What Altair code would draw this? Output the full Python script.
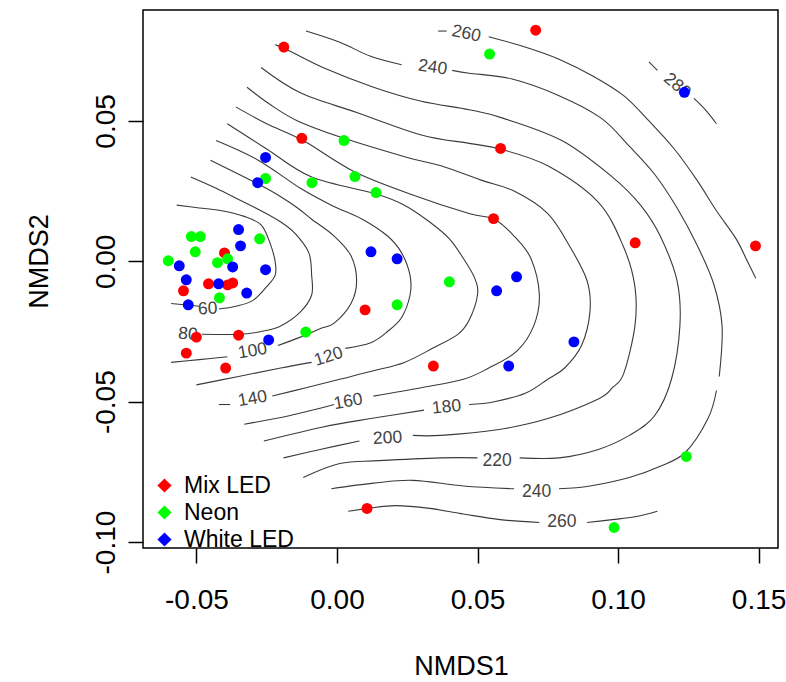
import altair as alt
import pandas as pd

FONT = "Liberation Sans"

# ---- sample scores (NMDS1, NMDS2) ----
groups = ["Mix LED", "Neon", "White LED"]
group_colors = ["#FF0000", "#00FF00", "#0000FF"]

mix_x = [-0.0400, -0.0457, -0.0389, -0.0371, -0.0546, -0.0500, -0.0350, -0.0536, -0.0396,
         -0.0189, -0.0125, 0.0707, 0.0582, 0.0557, 0.1061, 0.1489, 0.0100, 0.0343, 0.0107]
mix_y = [0.0030, -0.0080, -0.0084, -0.0077, -0.0105, -0.0270, -0.0263, -0.0327, -0.0380,
         0.0763, 0.0438, 0.0823, 0.0402, 0.0152, 0.0066, 0.0055, -0.0173, -0.0373, -0.0880]

neon_x = [-0.0275, -0.0518, -0.0486, -0.0504, -0.0600, -0.0425, -0.0389, -0.0418, -0.0111,
          0.0025, -0.0254, -0.0089, 0.0064, 0.0139, 0.0543, 0.0400, 0.0214, 0.1243, 0.0986]
neon_y = [0.0080, 0.0088, 0.0088, 0.0034, 0.0002, -0.0005, 0.0009, -0.0130, -0.0252,
          0.0430, 0.0295, 0.0280, 0.0302, 0.0245, 0.0738, -0.0073, -0.0155, -0.0695, -0.0948]

white_x = [-0.0350, -0.0343, -0.0561, -0.0371, -0.0254, -0.0536, -0.0421, -0.0321, -0.0529,
           -0.0243, -0.0254, -0.0282, 0.1236, 0.0121, 0.0214, 0.0639, 0.0568, 0.0843, 0.0611]
white_y = [0.0113, 0.0055, -0.0016, -0.0020, -0.0030, -0.0066, -0.0080, -0.0113, -0.0155,
           -0.0280, 0.0370, 0.0280, 0.0602, 0.0034, 0.0009, -0.0055, -0.0105, -0.0287, -0.0373]

# ---- fitted surface contours (segments split where labels sit) ----
contour_60 = [
    [(-0.059, -0.015), (-0.049, -0.016)],
    [(-0.042, -0.017), (-0.036, -0.016), (-0.030, -0.014), (-0.025, -0.009), (-0.022, -0.005),
     (-0.022, 0.000), (-0.024, 0.007), (-0.027, 0.013), (-0.033, 0.016), (-0.041, 0.018),
     (-0.049, 0.019), (-0.057, 0.020)],
]
contour_80 = [
    [(-0.048, -0.026), (-0.035, -0.026), (-0.027, -0.025), (-0.020, -0.023), (-0.013, -0.018),
     (-0.009, -0.012), (-0.009, -0.005), (-0.010, 0.003), (-0.015, 0.010), (-0.020, 0.014),
     (-0.027, 0.018), (-0.035, 0.022), (-0.043, 0.026), (-0.052, 0.030)],
]
contour_100 = [
    [(-0.059, -0.036), (-0.049, -0.035), (-0.039, -0.034)],
    [(-0.021, -0.030), (-0.013, -0.027), (-0.006, -0.024), (-0.001, -0.022), (0.005, -0.015),
     (0.007, -0.007), (0.005, 0.002), (-0.001, 0.009), (-0.009, 0.015), (-0.014, 0.019),
     (-0.020, 0.023), (-0.027, 0.027), (-0.045, 0.036)],
]
contour_120 = [
    [(-0.050, -0.044), (-0.035, -0.041), (-0.020, -0.038), (-0.009, -0.036)],
    [(0.003, -0.031), (0.012, -0.029), (0.018, -0.025), (0.023, -0.020), (0.026, -0.012),
     (0.026, -0.005), (0.023, 0.003), (0.018, 0.009), (0.009, 0.015), (-0.002, 0.020),
     (-0.013, 0.026), (-0.028, 0.036), (-0.043, 0.043)],
]
contour_140 = [
    [(-0.042, -0.051), (-0.038, -0.051)],
    [(-0.023, -0.048), (-0.011, -0.045), (0.001, -0.042), (0.013, -0.039), (0.024, -0.036),
     (0.034, -0.031), (0.043, -0.026), (0.047, -0.021), (0.050, -0.012), (0.049, -0.006),
     (0.045, 0.001), (0.040, 0.008), (0.033, 0.014), (0.024, 0.020), (0.014, 0.024),
     (-0.009, 0.030), (-0.025, 0.040), (-0.039, 0.049)],
]
contour_160 = [
    [(-0.033, -0.058), (-0.017, -0.055), (-0.001, -0.051)],
    [(0.013, -0.048), (0.030, -0.045), (0.045, -0.042), (0.054, -0.038), (0.064, -0.032),
     (0.070, -0.023), (0.072, -0.012), (0.069, 0.001), (0.063, 0.009), (0.056, 0.015),
     (0.047, 0.017), (0.026, 0.024), (0.006, 0.032), (-0.012, 0.043), (-0.025, 0.049),
     (-0.036, 0.055)],
]
contour_180 = [
    [(-0.026, -0.064), (-0.005, -0.059), (0.012, -0.056), (0.031, -0.053)],
    [(0.047, -0.051), (0.056, -0.050), (0.067, -0.047), (0.075, -0.042), (0.081, -0.038),
     (0.087, -0.030), (0.090, -0.018), (0.089, -0.007), (0.083, 0.005), (0.075, 0.017),
     (0.063, 0.025), (0.051, 0.029), (0.037, 0.034), (0.025, 0.037), (0.002, 0.044),
     (-0.014, 0.050), (-0.024, 0.056), (-0.032, 0.062)],
]
contour_200 = [
    [(-0.019, -0.070), (-0.006, -0.067), (0.008, -0.064)],
    [(0.027, -0.062), (0.037, -0.062), (0.057, -0.060), (0.075, -0.056), (0.093, -0.049),
     (0.098, -0.045), (0.102, -0.040), (0.106, -0.023), (0.106, -0.009), (0.102, 0.005),
     (0.093, 0.021), (0.075, 0.034), (0.058, 0.040), (0.047, 0.042), (0.030, 0.045),
     (0.007, 0.053), (-0.013, 0.060), (-0.027, 0.069)],
]
contour_220 = [
    [(-0.012, -0.077), (0.001, -0.072), (0.015, -0.071), (0.037, -0.070), (0.050, -0.070)],
    [(0.065, -0.070), (0.079, -0.070), (0.093, -0.067), (0.104, -0.062), (0.113, -0.055),
     (0.119, -0.042), (0.122, -0.023), (0.121, -0.007), (0.115, 0.009), (0.108, 0.020),
     (0.098, 0.030), (0.080, 0.043), (0.059, 0.051), (0.047, 0.054), (0.030, 0.057),
     (0.013, 0.062), (-0.005, 0.069), (-0.019, 0.076), (-0.022, 0.077)],
]
contour_240 = [
    [(-0.011, 0.082), (0.001, 0.078), (0.012, 0.073), (0.023, 0.070)],
    [(0.041, 0.068), (0.047, 0.067), (0.062, 0.065), (0.079, 0.059), (0.094, 0.051),
     (0.104, 0.041), (0.113, 0.031), (0.121, 0.019), (0.128, 0.006), (0.134, -0.008),
     (0.137, -0.023), (0.136, -0.041)],
    [(0.135, -0.046), (0.132, -0.056), (0.124, -0.068), (0.115, -0.073), (0.104, -0.077),
     (0.090, -0.080), (0.079, -0.081)],
    [(0.063, -0.081), (0.045, -0.080), (0.027, -0.078), (0.013, -0.079), (-0.002, -0.081)],
]
contour_260 = [
    [(0.036, 0.082), (0.039, 0.082)],
    [(0.054, 0.080), (0.068, 0.076), (0.079, 0.072), (0.091, 0.066), (0.102, 0.059),
     (0.111, 0.050), (0.120, 0.040), (0.128, 0.029), (0.135, 0.018), (0.142, 0.008),
     (0.146, 0.000), (0.149, -0.006)],
    [(0.004, -0.089), (0.011, -0.088), (0.021, -0.087), (0.033, -0.088), (0.045, -0.090),
     (0.058, -0.092), (0.072, -0.093)],
    [(0.089, -0.093), (0.098, -0.092), (0.106, -0.091), (0.114, -0.089)],
]
contour_280 = [
    [(0.111, 0.071), (0.114, 0.068)],
    [(0.127, 0.058), (0.131, 0.054), (0.135, 0.049)],
]
contour_levels = [60, 80, 100, 120, 140, 160, 180, 200, 220, 240, 260, 280]
contour_sets = [contour_60, contour_80, contour_100, contour_120, contour_140, contour_160,
                contour_180, contour_200, contour_220, contour_240, contour_260, contour_280]

# ---- contour labels ----
label_text = ["60", "80", "100", "120", "140", "160", "180", "200", "220", "240", "260",
              "240", "260", "280"]
label_x = [-0.046, -0.053, -0.030, -0.003, -0.030, 0.004, 0.039, 0.018, 0.057, 0.071, 0.080,
           0.034, 0.046, 0.121]
label_y = [-0.017, -0.026, -0.032, -0.034, -0.049, -0.050, -0.052, -0.063, -0.071, -0.082, -0.093,
           0.069, 0.081, 0.0625]
label_angle = [357, 5, 350, 342, 350, 350, 354, 357, 0, 0, 0, 8, 12, 40]

x_ticks = [-0.05, 0.0, 0.05, 0.10, 0.15]
y_ticks = [-0.10, -0.05, 0.0, 0.05]
x_domain = [-0.0690, 0.1569]
y_domain = [-0.1021, 0.0895]

# ---- tables ----
pts = pd.DataFrame({
    "x": mix_x + neon_x + white_x,
    "y": mix_y + neon_y + white_y,
    "group": [groups[0]] * len(mix_x) + [groups[1]] * len(neon_x) + [groups[2]] * len(white_x),
})

rows = []
for level, segs in zip(contour_levels, contour_sets):
    for si, seg in enumerate(segs):
        for oi, (cx, cy) in enumerate(seg):
            rows.append({"x": cx, "y": cy, "seg": f"{level}_{si}", "ord": oi})
cdf = pd.DataFrame(rows)

ldf = pd.DataFrame({"x": label_x, "y": label_y, "t": label_text, "a": label_angle})

lab_expr = "(datum.value < 0 ? '-' : '') + format(abs(datum.value), '.2f')"

x_axis = alt.Axis(values=x_ticks, labelExpr=lab_expr, title="NMDS1", grid=False, domain=False,
                  tickSize=15, tickWidth=1.5, tickColor="black",
                  labelFont=FONT, labelFontSize=28, labelColor="black", labelPadding=45,
                  labelBaseline="alphabetic", labelFlush=False, labelOverlap=False,
                  titleFont=FONT, titleFontSize=27, titleFontWeight="normal", titleColor="black",
                  titleX=318, titleY=126.5, titleAlign="center", titleBaseline="alphabetic")
y_axis = alt.Axis(values=y_ticks, labelExpr=lab_expr, title="NMDS2", grid=False, domain=False,
                  tickSize=15, tickWidth=1.5, tickColor="black",
                  labelFont=FONT, labelFontSize=28, labelColor="black", labelPadding=14,
                  labelAngle=270, labelAlign="center", labelBaseline="alphabetic",
                  labelFlush=False, labelOverlap=False,
                  titleFont=FONT, titleFontSize=27, titleFontWeight="normal", titleColor="black",
                  titleAngle=270, titleX=-96, titleY=251, titleAlign="center",
                  titleBaseline="alphabetic")

X = alt.X("x:Q", scale=alt.Scale(domain=x_domain, nice=False, zero=False), axis=x_axis)
Y = alt.Y("y:Q", scale=alt.Scale(domain=y_domain, nice=False, zero=False), axis=y_axis)

lines = alt.Chart(cdf).mark_line(color="#3a3a3a", strokeWidth=1.1, interpolate="cardinal").encode(
    x=X, y=Y, detail="seg:N", order="ord:Q")

labels = alt.Chart(ldf).mark_text(font=FONT, fontSize=17.5, color="#444444",
                                   align="center", baseline="middle").encode(
    x=X, y=Y, text="t:N", angle=alt.Angle("a:Q", scale=None))

points = alt.Chart(pts).mark_circle(size=120, opacity=1).encode(
    x=X, y=Y,
    color=alt.Color("group:N", scale=alt.Scale(domain=groups, range=group_colors),
                    legend=alt.Legend(title=None, orient="none", legendX=10, legendY=464,
                                      symbolType="diamond", symbolSize=200,
                                      symbolStrokeWidth=0, symbolOpacity=1,
                                      labelFont=FONT, labelFontSize=23, labelColor="black",
                                      labelOffset=8, rowPadding=3, padding=0)))

chart = alt.layer(lines, labels, points).properties(
    width=635, height=538,
    autosize=alt.AutoSizeParams(type="none"),
    padding={"left": 143, "top": 10, "right": 8, "bottom": 134},
    background="white",
).configure_view(stroke="black", strokeWidth=1.5)

chart.save("out.html", embed_options={"renderer": "svg", "actions": False})
